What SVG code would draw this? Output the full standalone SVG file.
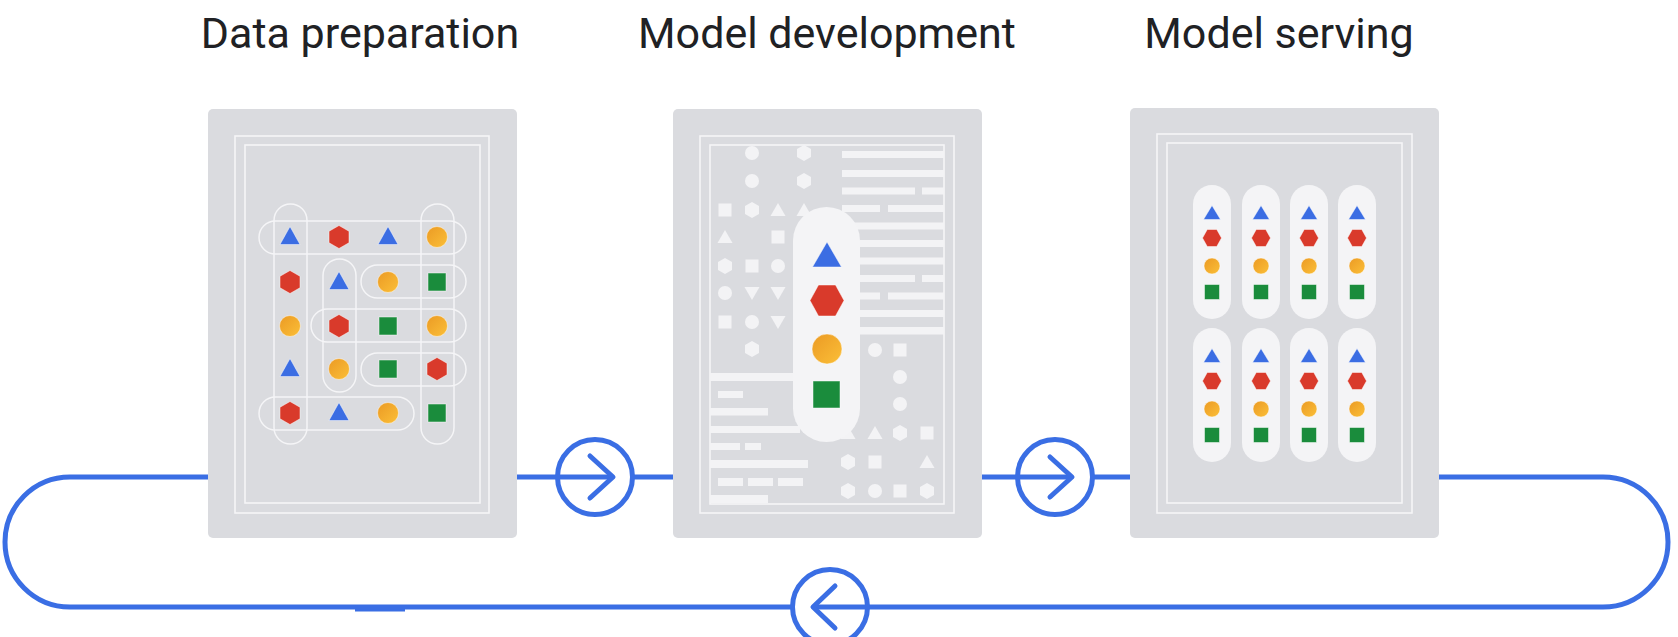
<svg xmlns="http://www.w3.org/2000/svg" xmlns:xlink="http://www.w3.org/1999/xlink" width="1678" height="637" viewBox="0 0 1678 637">
<style>
.title{font-family:Roboto,"Liberation Sans",sans-serif;font-size:43px;fill:#202124;text-anchor:middle}
.panel{fill:#dadbdf}
.frame{fill:none;stroke:#f5f5f7;stroke-width:1.6}
.pill1{fill:none;stroke:#f5f5f7;stroke-width:1.5}
.lt{fill:#f3f3f5}
.pill{fill:#f4f4f6}
.blue{fill:#3b6de3;stroke:#ffffff;stroke-width:0.8;stroke-opacity:0.6}
.red{fill:#d93a2b;stroke:#ffffff;stroke-width:0.8;stroke-opacity:0.6}
.yel{fill:url(#yg);stroke:#ffffff;stroke-width:0.8;stroke-opacity:0.6}
.grn{fill:#1a8c3c;stroke:#ffffff;stroke-width:0.8;stroke-opacity:0.6}
.line{fill:none;stroke:#3a6ee4;stroke-width:5}
.ring{fill:#ffffff;stroke:#3a6ee4;stroke-width:5}
.chev{fill:none;stroke:#3a6ee4;stroke-width:5;stroke-linecap:round;stroke-linejoin:round}
</style>
<defs>
<linearGradient id="yg" x1="0" y1="0" x2="1" y2="1">
<stop offset="0" stop-color="#eb9a24"/>
<stop offset="1" stop-color="#fbbf38"/>
</linearGradient>
<polygon id="t1" points="0,-10.5 10,7.5 -10,7.5"/>
<polygon id="h1" points="0,-11.5 10,-5.75 10,5.75 0,11.5 -10,5.75 -10,-5.75"/>
<circle id="c1" r="10.5"/>
<rect id="s1" x="-9" y="-9" width="18" height="18"/>
<polygon id="t2" points="0,-7 7.5,6 -7.5,6"/>
<polygon id="v2" points="0,7 7.5,-6 -7.5,-6"/>
<polygon id="h2" points="0,-8 7,-4 7,4 0,8 -7,4 -7,-4"/>
<circle id="c2" r="7"/>
<rect id="s2" x="-6.5" y="-6.5" width="13" height="13"/>
<polygon id="t3" points="0,-7.5 8.5,6.5 -8.5,6.5"/>
<polygon id="h3" points="-9.5,0 -4.75,-8.5 4.75,-8.5 9.5,0 4.75,8.5 -4.75,8.5"/>
<circle id="c3" r="8"/>
<rect id="s3" x="-7.5" y="-7.5" width="15" height="15"/>
<g id="col3">
<use href="#t3" y="0" class="blue"/>
<use href="#h3" y="25" class="red"/>
<use href="#c3" y="53" class="yel"/>
<use href="#s3" y="79" class="grn"/>
</g>
</defs>
<rect width="1678" height="637" fill="#ffffff"/>

<g id="titles">
<text class="title" x="360" y="48">Data preparation</text>
<text class="title" x="827" y="48">Model development</text>
<text class="title" x="1279" y="48">Model serving</text>
</g>

<g id="connectors">
<path class="line" d="M 208 477 H 70 A 65 65 0 0 0 70 607 H 1603 A 65 65 0 0 0 1603 477 H 1439"/>
<rect x="355" y="607" width="50" height="4.5" fill="#3a6ee4"/>
<line class="line" x1="515" y1="477" x2="675" y2="477"/>
<line class="line" x1="980" y1="477" x2="1132" y2="477"/>
</g>

<g id="data-preparation">
<rect class="panel" x="208" y="109" width="309" height="429" rx="5"/>
<rect class="frame" x="235" y="136" width="254" height="377"/>
<rect class="frame" x="245" y="145" width="235" height="358"/>
<rect class="pill1" x="274" y="204" width="33" height="240" rx="16.5"/>
<rect class="pill1" x="421" y="204" width="33" height="240" rx="16.5"/>
<rect class="pill1" x="323" y="259" width="33" height="133" rx="16.5"/>
<rect class="pill1" x="259" y="221" width="207" height="33" rx="16.5"/>
<rect class="pill1" x="361" y="265" width="105" height="33" rx="16.5"/>
<rect class="pill1" x="311" y="309" width="155" height="33" rx="16.5"/>
<rect class="pill1" x="361" y="353" width="105" height="33" rx="16.5"/>
<rect class="pill1" x="259" y="397" width="155" height="33" rx="16.5"/>
<use href="#t1" x="290" y="237" class="blue"/>
<use href="#h1" x="339" y="237" class="red"/>
<use href="#t1" x="388" y="237" class="blue"/>
<use href="#c1" x="437" y="237" class="yel"/>
<use href="#h1" x="290" y="282" class="red"/>
<use href="#t1" x="339" y="282" class="blue"/>
<use href="#c1" x="388" y="282" class="yel"/>
<use href="#s1" x="437" y="282" class="grn"/>
<use href="#c1" x="290" y="326" class="yel"/>
<use href="#h1" x="339" y="326" class="red"/>
<use href="#s1" x="388" y="326" class="grn"/>
<use href="#c1" x="437" y="326" class="yel"/>
<use href="#t1" x="290" y="369" class="blue"/>
<use href="#c1" x="339" y="369" class="yel"/>
<use href="#s1" x="388" y="369" class="grn"/>
<use href="#h1" x="437" y="369" class="red"/>
<use href="#h1" x="290" y="413" class="red"/>
<use href="#t1" x="339" y="413" class="blue"/>
<use href="#c1" x="388" y="413" class="yel"/>
<use href="#s1" x="437" y="413" class="grn"/>
</g>

<g id="model-development">
<rect class="panel" x="673" y="109" width="309" height="429" rx="5"/>
<rect class="frame" x="700" y="136" width="254" height="377"/>
<rect class="frame" x="710" y="145" width="234" height="359"/>
<g class="lt">
<rect x="842" y="151" width="102" height="7"/>
<rect x="842" y="170" width="102" height="7"/>
<rect x="842" y="187.5" width="73" height="7"/><rect x="922" y="187.5" width="22" height="7"/>
<rect x="842" y="205" width="38" height="7"/><rect x="888" y="205" width="56" height="7"/>
<rect x="842" y="222.5" width="102" height="7"/>
<rect x="842" y="240" width="102" height="7"/>
<rect x="842" y="257.5" width="102" height="7"/>
<rect x="842" y="275" width="73" height="7"/><rect x="922" y="275" width="22" height="7"/>
<rect x="842" y="292.5" width="38" height="7"/><rect x="888" y="292.5" width="56" height="7"/>
<rect x="842" y="310" width="102" height="7"/>
<rect x="842" y="327" width="102" height="7.5"/>
<rect x="710" y="373" width="90" height="8"/>
<rect x="718" y="391" width="25" height="7"/>
<rect x="710" y="408" width="58" height="7.5"/>
<rect x="710" y="426" width="90" height="7"/>
<rect x="710" y="443" width="30" height="7"/><rect x="745" y="443" width="16" height="7"/>
<rect x="710" y="460" width="98" height="8"/>
<rect x="718" y="478" width="25" height="8"/><rect x="748" y="478" width="25" height="8"/><rect x="778" y="478" width="25" height="8"/>
<rect x="710" y="495" width="58" height="8"/>
<use href="#c2" x="752" y="153"/><use href="#h2" x="804" y="153"/>
<use href="#c2" x="752" y="181"/><use href="#h2" x="804" y="181"/>
<use href="#s2" x="725" y="210"/><use href="#h2" x="752" y="210"/><use href="#t2" x="778" y="210"/><use href="#t2" x="804" y="210"/>
<use href="#t2" x="725" y="237"/><use href="#s2" x="778" y="237"/>
<use href="#h2" x="725" y="266"/><use href="#s2" x="752" y="266"/><use href="#c2" x="778" y="266"/>
<use href="#c2" x="725" y="293"/><use href="#v2" x="752" y="293"/><use href="#v2" x="778" y="293"/>
<use href="#s2" x="725" y="322"/><use href="#c2" x="752" y="322"/><use href="#v2" x="778" y="322"/>
<use href="#h2" x="752" y="349"/>
<use href="#c2" x="875" y="350"/><use href="#s2" x="900" y="350"/>
<use href="#c2" x="900" y="377"/>
<use href="#c2" x="900" y="404"/>
<use href="#t2" x="848" y="433"/><use href="#t2" x="875" y="433"/><use href="#h2" x="900" y="433"/><use href="#s2" x="927" y="433"/>
<use href="#h2" x="848" y="462"/><use href="#s2" x="875" y="462"/><use href="#t2" x="927" y="462"/>
<use href="#h2" x="848" y="491"/><use href="#c2" x="875" y="491"/><use href="#s2" x="900" y="491"/><use href="#h2" x="927" y="491"/>
</g>
<rect class="pill" x="793" y="207" width="67" height="235" rx="33.5"/>
<polygon class="blue" points="827,242 841.5,267 812.5,267"/>
<polygon class="red" points="810,300.5 818.5,285 835.5,285 844,300.5 835.5,316 818.5,316"/>
<circle class="yel" cx="827" cy="349" r="15"/>
<rect class="grn" x="813" y="381" width="27" height="27"/>
</g>

<g id="model-serving">
<rect class="panel" x="1130" y="108" width="309" height="430" rx="5"/>
<rect class="frame" x="1157" y="134" width="255" height="379"/>
<rect class="frame" x="1167" y="143" width="235" height="360"/>
<rect class="pill" x="1193" y="185" width="38" height="134" rx="19"/>
<rect class="pill" x="1242" y="185" width="38" height="134" rx="19"/>
<rect class="pill" x="1290" y="185" width="38" height="134" rx="19"/>
<rect class="pill" x="1338" y="185" width="38" height="134" rx="19"/>
<rect class="pill" x="1193" y="328" width="38" height="134" rx="19"/>
<rect class="pill" x="1242" y="328" width="38" height="134" rx="19"/>
<rect class="pill" x="1290" y="328" width="38" height="134" rx="19"/>
<rect class="pill" x="1338" y="328" width="38" height="134" rx="19"/>
<use href="#col3" x="1212" y="213"/>
<use href="#col3" x="1261" y="213"/>
<use href="#col3" x="1309" y="213"/>
<use href="#col3" x="1357" y="213"/>
<use href="#col3" x="1212" y="356"/>
<use href="#col3" x="1261" y="356"/>
<use href="#col3" x="1309" y="356"/>
<use href="#col3" x="1357" y="356"/>
</g>

<g id="arrow-1">
<circle class="ring" cx="595" cy="477" r="37.5"/>
<line class="line" x1="557.5" y1="477" x2="612" y2="477"/>
<polyline class="chev" points="590,456 613,477 590,498"/>
</g>
<g id="arrow-2">
<circle class="ring" cx="1055" cy="477" r="37.5"/>
<line class="line" x1="1017.5" y1="477" x2="1071" y2="477"/>
<polyline class="chev" points="1050,457 1072,477 1050,497"/>
</g>
<g id="arrow-3">
<circle class="ring" cx="830" cy="607" r="37.5"/>
<line class="line" x1="814" y1="607" x2="867.5" y2="607"/>
<polyline class="chev" points="835,586 813,607 835,628"/>
</g>
</svg>
